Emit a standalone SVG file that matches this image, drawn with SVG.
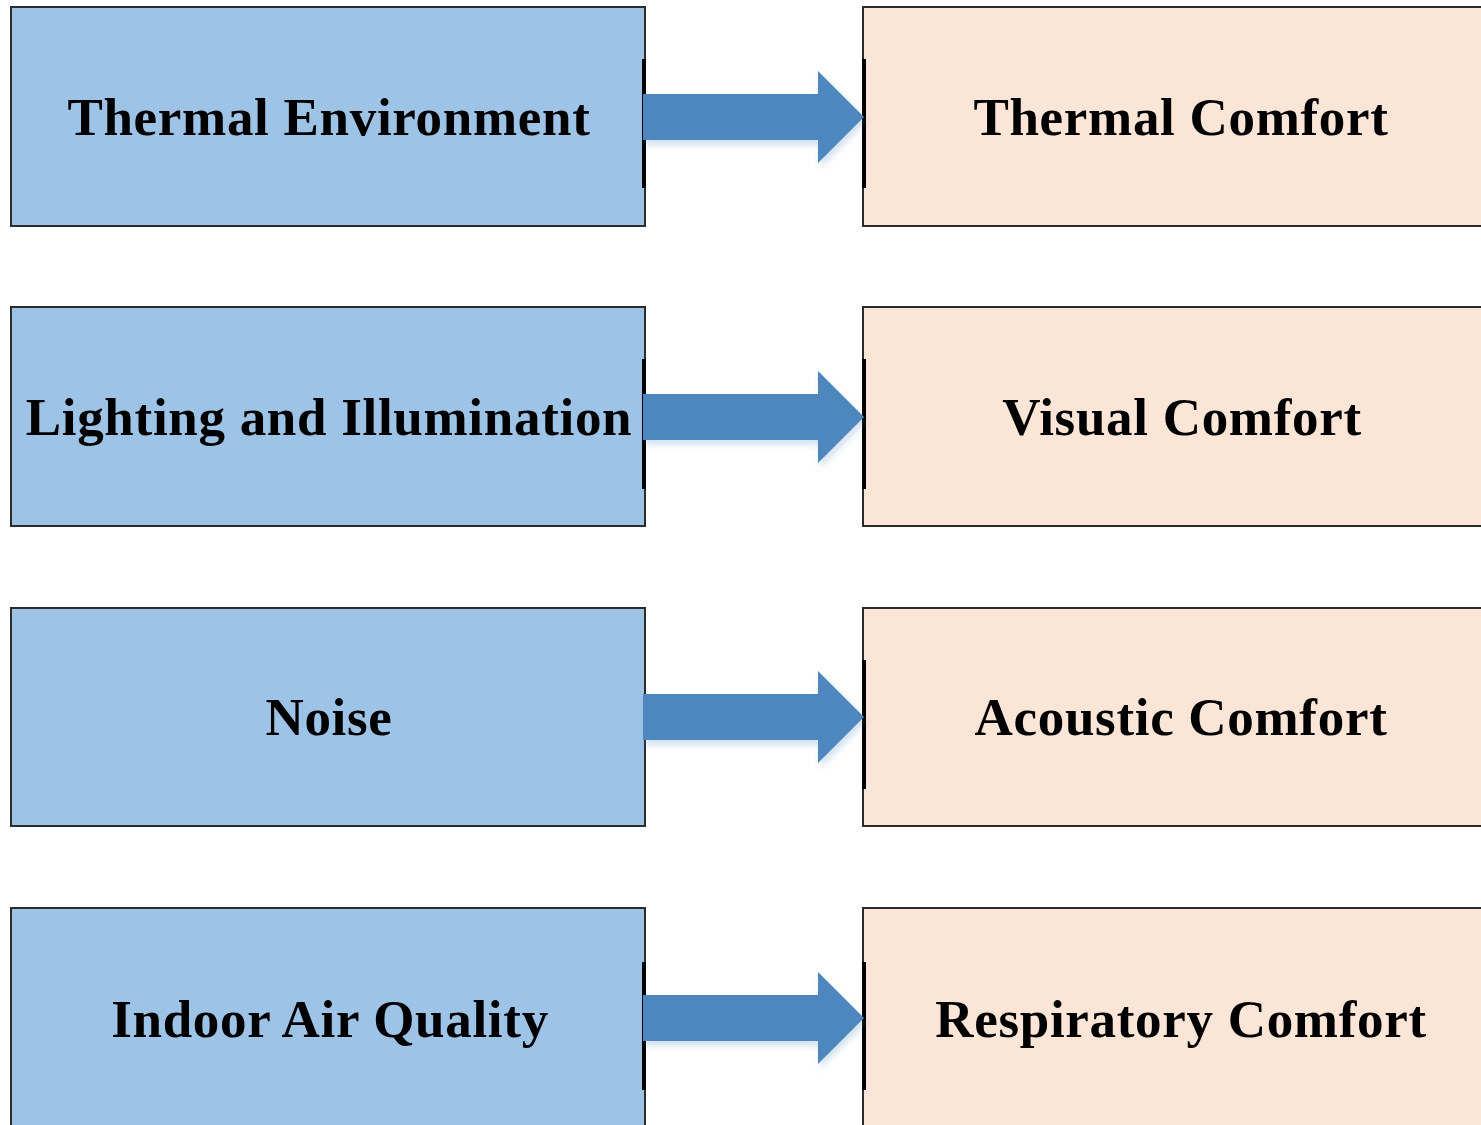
<svg xmlns="http://www.w3.org/2000/svg" width="1481" height="1125" viewBox="0 0 1481 1125">
<style>
.src{fill:#9DC3E6;stroke:#2b2b2b;stroke-width:2}
.dst{fill:#FBE5D6;stroke:#2b2b2b;stroke-width:2}
.lbl{font-family:"Liberation Serif","Times New Roman",serif;font-weight:bold;font-size:53px;letter-spacing:0.7px;fill:#000;text-anchor:middle}
.arr{fill:#4D87BE;filter:url(#sh)}
.bar{stroke:#000;stroke-width:4}
</style>
<defs>
<filter id="sh" x="-10%" y="-20%" width="130%" height="160%">
<feDropShadow dx="2" dy="5" stdDeviation="3" flood-color="#4D87BE" flood-opacity="0.25"/>
</filter>
<path id="arrow" d="M0,-23 H175 V-46 L221,0 L175,46 V23 H0 Z"/>
</defs>
<g id="node-thermal-environment"><rect class="src" x="11" y="7" width="634" height="219"/><text class="lbl" x="329" y="135">Thermal Environment</text></g>
<g id="node-lighting"><rect class="src" x="11" y="307" width="634" height="219"/><text class="lbl" x="329" y="435">Lighting and Illumination</text></g>
<g id="node-noise"><rect class="src" x="11" y="608" width="634" height="218"/><text class="lbl" x="329" y="735">Noise</text></g>
<g id="node-iaq"><rect class="src" x="11" y="908" width="634" height="230"/><text class="lbl" x="330" y="1037">Indoor Air Quality</text></g>
<g id="node-thermal-comfort"><rect class="dst" x="863" y="7" width="640" height="219"/><text class="lbl" x="1181" y="135">Thermal Comfort</text></g>
<g id="node-visual-comfort"><rect class="dst" x="863" y="307" width="640" height="219"/><text class="lbl" x="1182" y="435">Visual Comfort</text></g>
<g id="node-acoustic-comfort"><rect class="dst" x="863" y="608" width="640" height="218"/><text class="lbl" x="1181" y="735">Acoustic Comfort</text></g>
<g id="node-respiratory-comfort"><rect class="dst" x="863" y="908" width="640" height="230"/><text class="lbl" x="1181" y="1037">Respiratory Comfort</text></g>
<g id="connectors">
<line class="bar" x1="644" y1="59" x2="644" y2="188"/>
<line class="bar" x1="864" y1="59" x2="864" y2="188"/>
<line class="bar" x1="644" y1="359" x2="644" y2="489"/>
<line class="bar" x1="864" y1="359" x2="864" y2="489"/>
<line class="bar" x1="864" y1="660" x2="864" y2="789"/>
<line class="bar" x1="644" y1="962" x2="644" y2="1090"/>
<line class="bar" x1="864" y1="962" x2="864" y2="1090"/>
<use href="#arrow" class="arr" x="643" y="117"/>
<use href="#arrow" class="arr" x="643" y="417"/>
<use href="#arrow" class="arr" x="643" y="717"/>
<use href="#arrow" class="arr" x="643" y="1018"/>
</g>
</svg>
